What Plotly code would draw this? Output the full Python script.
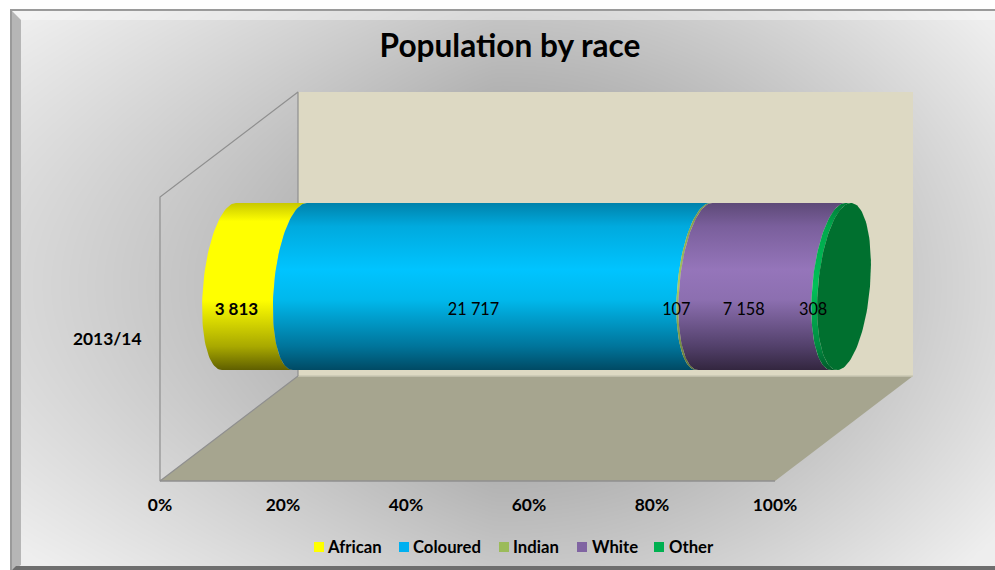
import numpy as np
import plotly.graph_objects as go

# Population counts for the single period shown
PERIOD = "2013/14"
RACES = ["African", "Coloured", "Indian", "White", "Other"]
COUNTS = [3813, 21717, 107, 7158, 308]
LABELS = ["3 813", "21 717", "107", "7 158", "308"]
PCT_TICKS = [0, 20, 40, 60, 80, 100]
PCT_TEXT = ["0%", "20%", "40%", "60%", "80%", "100%"]

SWATCH = ["#ffff00", "#00b0f0", "#9bbb59", "#8064a2", "#00b050"]
SHADES = [
    [(0, "#5f5f00"), (.14, "#a8a800"), (.42, "#ffff00"), (.89, "#ffff00"), (1, "#c8c800")],
    [(0, "#004a64"), (.14, "#00749a"), (.42, "#00b8ec"), (.6, "#00c4ff"), (.86, "#00aade"), (1, "#0082ab")],
    [(0, "#5f7336"), (.5, "#a8cc60"), (1, "#7b9546")],
    [(0, "#33263f"), (.14, "#52406a"), (.42, "#8c6fb0"), (.6, "#9575ba"), (.86, "#7a5f9c"), (1, "#5e4a78")],
    [(0, "#005a2a"), (.14, "#008a40"), (.5, "#00c058"), (.86, "#00a84c"), (1, "#007a38")],
]
CAP_COLOR = "#00702f"

W, H = 995, 570
X0_PX, X100_PX, FLOOR_PX, TOP_PX = 160, 775, 481, 197
PX_X = (X100_PX - X0_PX) / 100
PX_Y = FLOOR_PX - TOP_PX

# Oblique projection of the box, expressed in axis units
DEPTH_X = 138 / PX_X
DEPTH_Y = 105 / PX_Y
RADIUS_Y = 83.5 / PX_Y
ARC_A = 26 / PX_X
ARC_S = 7 / PX_X
CY = 0.5 + DEPTH_Y / 2
CX = DEPTH_X / 2

x_range = [-X0_PX / PX_X, (W - X0_PX) / PX_X]
y_range = [(FLOOR_PX - H) / PX_Y, FLOOR_PX / PX_Y]


def to_x(px):
    return (px - X0_PX) / PX_X


def to_y(px):
    return (FLOOR_PX - px) / PX_Y


def arc(pos, t0, t1, n=60):
    t = np.radians(np.linspace(t0, t1, n))
    return (pos + CX + ARC_A * np.cos(t) + ARC_S * np.sin(t),
            CY + RADIUS_Y * np.sin(t))


shares = 100 * np.array(COUNTS) / sum(COUNTS)
edges = np.concatenate([[0], np.cumsum(shares)])
mids = (edges[:-1] + edges[1:]) / 2

fig = go.Figure()

# Soft grey panel: darker through the middle, light toward the sides and corners
gx = np.linspace(*x_range, 120)
gy = np.linspace(*y_range, 70)
u = (gx - (x_range[0] + x_range[1]) / 2) / ((x_range[1] - x_range[0]) / 2)
v = (gy - (y_range[0] + y_range[1]) / 2) / ((y_range[1] - y_range[0]) / 2)
uu, vv = np.meshgrid(u, v)
left_stretch = np.where(uu < 0, np.abs(uu) ** 0.6, np.abs(uu))
radius = np.sqrt(left_stretch ** 2 + (0.8 * vv) ** 2)
panel = np.clip(130 + 88 * radius, 165, 238)
fig.add_trace(go.Heatmap(
    x=gx, y=gy, z=panel, zmin=0, zmax=255, zsmooth="best", showscale=False,
    colorscale=[[0, "#000000"], [1, "#ffffff"]], hoverinfo="skip", showlegend=False,
))


def box_part(xs, ys, fill=None, line=None, width=1.2):
    fig.add_trace(go.Scatter(
        x=xs, y=ys, mode="lines", hoverinfo="skip", showlegend=False,
        fill="toself" if fill else None, fillcolor=fill,
        line=dict(color=line or "rgba(0,0,0,0)", width=width if line else 0),
    ))


# Back wall, floor and the outline of the side wall
box_part([DEPTH_X, 100 + DEPTH_X, 100 + DEPTH_X, DEPTH_X, DEPTH_X],
         [DEPTH_Y, DEPTH_Y, 1 + DEPTH_Y, 1 + DEPTH_Y, DEPTH_Y], fill="#ddd9c3")
box_part([0, 100, 100 + DEPTH_X, DEPTH_X, 0],
         [0, 0, DEPTH_Y, DEPTH_Y, 0], fill="#a6a58f")
box_part([DEPTH_X, 100 + DEPTH_X], [DEPTH_Y, DEPTH_Y], line="#c9c7b3", width=1.5)
box_part([0, 100], [0, 0], line="#8f8f8f", width=1.6)
box_part([DEPTH_X, 0, 0, DEPTH_X, DEPTH_X],
         [DEPTH_Y, 0, 1, 1 + DEPTH_Y, DEPTH_Y], line="#8f8f8f")

# Cylinder segments, one per race
for i, race in enumerate(RACES):
    xa, ya = arc(edges[i], 90, 270)
    xb, yb = arc(edges[i + 1], 270, 90)
    fig.add_trace(go.Scatter(
        x=np.concatenate([xa, xb, xa[:1]]), y=np.concatenate([ya, yb, ya[:1]]),
        mode="lines", fill="toself", line=dict(width=0), showlegend=False, hoverinfo="skip",
        fillgradient=dict(type="vertical", start=CY - RADIUS_Y, stop=CY + RADIUS_Y,
                          colorscale=[[p, c] for p, c in SHADES[i]]),
    ))

# Closing cap at the 100% end
xc, yc = arc(edges[-1], 0, 360, 120)
fig.add_trace(go.Scatter(x=xc, y=yc, mode="lines", fill="toself", fillcolor=CAP_COLOR,
                         line=dict(width=0), showlegend=False, hoverinfo="skip"))

# Value labels sit on the cylinder surface
for i, race in enumerate(RACES):
    fig.add_trace(go.Scatter(
        x=[mids[i] + 41 / PX_X], y=[to_y(310.5)], mode="text", text=[LABELS[i]],
        textposition="middle center", showlegend=False, hoverinfo="skip",
        textfont=dict(family="Lato", size=17 if i == 0 else 16.3, color="#000000",
                      weight="bold" if i == 0 else "normal"),
    ))

# Key along the bottom edge: swatch followed by its label
KEY_SWATCH_PX = [319, 404, 504, 582, 659]
KEY_TEXT_PX = [328, 413, 513, 592, 669]
for race, color, sx, tx in zip(RACES, SWATCH, KEY_SWATCH_PX, KEY_TEXT_PX):
    fig.add_trace(go.Scatter(x=[to_x(sx)], y=[to_y(547)], mode="markers", name=race,
                             showlegend=False, hoverinfo="skip",
                             marker=dict(symbol="square", size=10, color=color)))
    fig.add_trace(go.Scatter(x=[to_x(tx)], y=[to_y(548.5)], mode="text", text=[race],
                             textposition="middle right", showlegend=False, hoverinfo="skip",
                             textfont=dict(family="Lato", size=16.7, weight="bold",
                                           color="#000000")))


def px_poly(points):
    return "M" + " L".join(f"{x / W:.5f},{1 - y / H:.5f}" for x, y in points) + " Z"


def frame(points, color):
    return dict(type="path", xref="paper", yref="paper", path=px_poly(points),
                fillcolor=color, line=dict(width=0), layer="above")


frame_shapes = [
    frame([(0, 0), (W, 0), (W, 9), (0, 9)], "#ffffff"),
    frame([(0, 0), (10, 0), (10, H), (0, H)], "#ffffff"),
    frame([(10, 9), (W, 9), (W, 11), (10, 11)], "#9a9a9a"),
    frame([(10, 9), (12, 9), (12, H), (10, H)], "#9a9a9a"),
    frame([(12, 11), (W, 11), (W, 20), (21, 20)], "rgba(255,255,255,0.35)"),
    frame([(12, 11), (21, 20), (21, 565), (12, H)], "#b6b6b6"),
    frame([(16, 566), (W, 566), (W, H), (12, H)], "#6e6e6e"),
]

TICK_FONT = dict(family="Lato", size=17.4, weight="bold", color="#000000")

fig.update_layout(
    width=W, height=H, margin=dict(l=0, r=0, t=0, b=0), autosize=False,
    paper_bgcolor="#ffffff", plot_bgcolor="#ffffff", hovermode=False, showlegend=False,
    title=dict(text="<b>Population by race</b>", x=510 / W, xanchor="center",
               y=1 - 46 / H, yanchor="middle",
               font=dict(family="Lato", size=31.6, color="#000000")),
    xaxis=dict(range=x_range, tickvals=PCT_TICKS, ticktext=PCT_TEXT, showgrid=False,
               zeroline=False, showline=False, anchor="free", position=(H - FLOOR_PX) / H,
               ticks="outside", ticklen=8, tickcolor="rgba(0,0,0,0)", tickfont=TICK_FONT),
    yaxis=dict(range=y_range, tickvals=[0.5], ticktext=[PERIOD], showgrid=False,
               zeroline=False, showline=False, anchor="free", position=X0_PX / W,
               ticks="outside", ticklen=15, tickcolor="rgba(0,0,0,0)", tickfont=TICK_FONT),
    shapes=frame_shapes,
)

fig.write_html("out.html")
